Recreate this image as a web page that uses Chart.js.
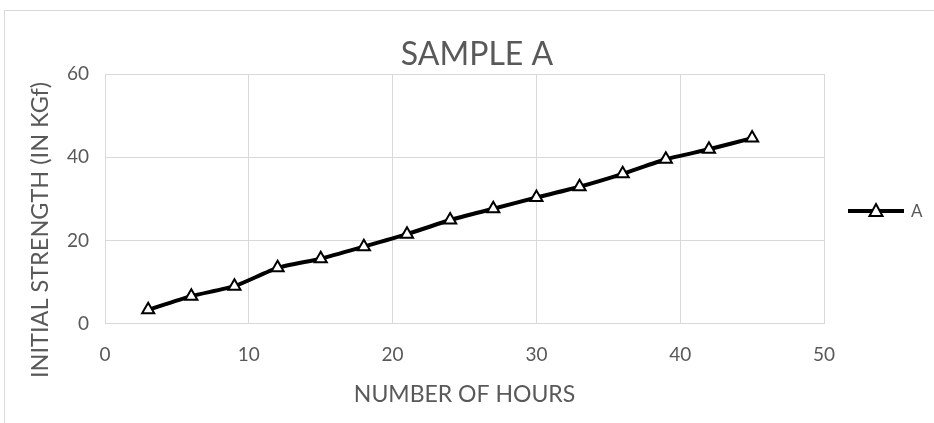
<!DOCTYPE html>
<html>
<head>
<meta charset="utf-8">
<script src="https://cdn.jsdelivr.net/npm/chart.js@4"></script>
<style>
  html, body { margin: 0; padding: 0; background: #fff; }
  #wrap { position: relative; width: 934px; height: 423px; }
  #frame { position: absolute; left: 4px; top: 10px; right: -2px; bottom: -2px; border-left: 1px solid #d9d9d9; border-top: 1px solid #d9d9d9; }
  canvas { position: absolute; left: 0; top: 0; }
</style>
</head>
<body>
<div id="wrap">
  <div id="frame"></div>
  <canvas id="chart" width="934" height="423"></canvas>
</div>
<script>
// --- data ---
const hours = [3, 6, 9, 12, 15, 18, 21, 24, 27, 30, 33, 36, 39, 42, 45];
const strengthA = [3.3, 6.6, 9, 13.4, 15.6, 18.5, 21.5, 24.9, 27.6, 30.3, 32.9, 36, 39.5, 41.9, 44.6];
const seriesName = 'A';
const chartTitle = 'SAMPLE A';
const xTitle = 'NUMBER OF HOURS';
const yTitle = 'INITIAL STRENGTH (IN KGf)';

const FONT = 'Lato, "Open Sans", sans-serif';
const TEXT = '#595959';
const GRID = '#d9d9d9';

// chart title, y title and legend drawn by hand so they sit where the spreadsheet put them
// (the y title in the original hangs lower than the plot centre)
const decorations = {
    id: 'decorations',
    afterDraw(chart) {
        const ctx = chart.ctx;
        ctx.save();
        ctx.fillStyle = TEXT;
        ctx.textAlign = 'center';
        ctx.textBaseline = 'middle';

        // title
        ctx.font = '32px ' + FONT;
        ctx.fillText(chartTitle, 477, 55);

        // y axis title
        ctx.save();
        ctx.translate(40, 230);
        ctx.rotate(-Math.PI / 2);
        ctx.font = '23.5px ' + FONT;
        ctx.fillText(yTitle, 0, 0);
        ctx.restore();

        // legend: line + hollow triangle + label
        const y = 211;
        ctx.strokeStyle = '#000';
        ctx.lineWidth = 4;
        ctx.beginPath();
        ctx.moveTo(848, y);
        ctx.lineTo(904, y);
        ctx.stroke();
        ctx.fillStyle = '#fff';
        ctx.lineWidth = 2;
        ctx.beginPath();
        ctx.moveTo(876, y - 7);
        ctx.lineTo(882.5, y + 5);
        ctx.lineTo(869.5, y + 5);
        ctx.closePath();
        ctx.fill();
        ctx.stroke();
        ctx.fillStyle = TEXT;
        ctx.font = '17px ' + FONT;
        ctx.textAlign = 'left';
        ctx.fillText(seriesName, 911, y + 1);
        ctx.restore();
    }
};

new Chart(document.getElementById('chart'), {
    type: 'line',
    data: {
        datasets: [{
            label: seriesName,
            data: hours.map((h, i) => ({ x: h, y: strengthA[i] })),
            borderColor: '#000',
            borderWidth: 4,
            tension: 0.2,
            pointStyle: 'triangle',
            pointRadius: 7,
            pointBorderWidth: 2,
            pointBackgroundColor: '#fff',
            pointBorderColor: '#000'
        }]
    },
    options: {
        responsive: false,
        animation: false,
        layout: { padding: { left: 51, right: 110, top: 74, bottom: 15 } },
        plugins: {
            legend: { display: false },
            tooltip: { enabled: false },
            title: { display: false }
        },
        scales: {
            x: {
                type: 'linear',
                min: 0, max: 50,
                ticks: { stepSize: 10, color: TEXT, font: { family: FONT, size: 19 }, padding: 20 },
                grid: { color: GRID, drawTicks: false },
                border: { color: GRID },
                title: { display: true, text: xTitle, color: TEXT, font: { family: FONT, size: 23 }, padding: { top: -6, bottom: 0 } }
            },
            y: {
                min: 0, max: 60,
                ticks: { stepSize: 20, color: TEXT, font: { family: FONT, size: 19 }, padding: 16 },
                grid: { color: GRID, drawTicks: false },
                border: { color: GRID },
                title: { display: false }
            }
        }
    },
    plugins: [decorations]
});
</script>
</body>
</html>
